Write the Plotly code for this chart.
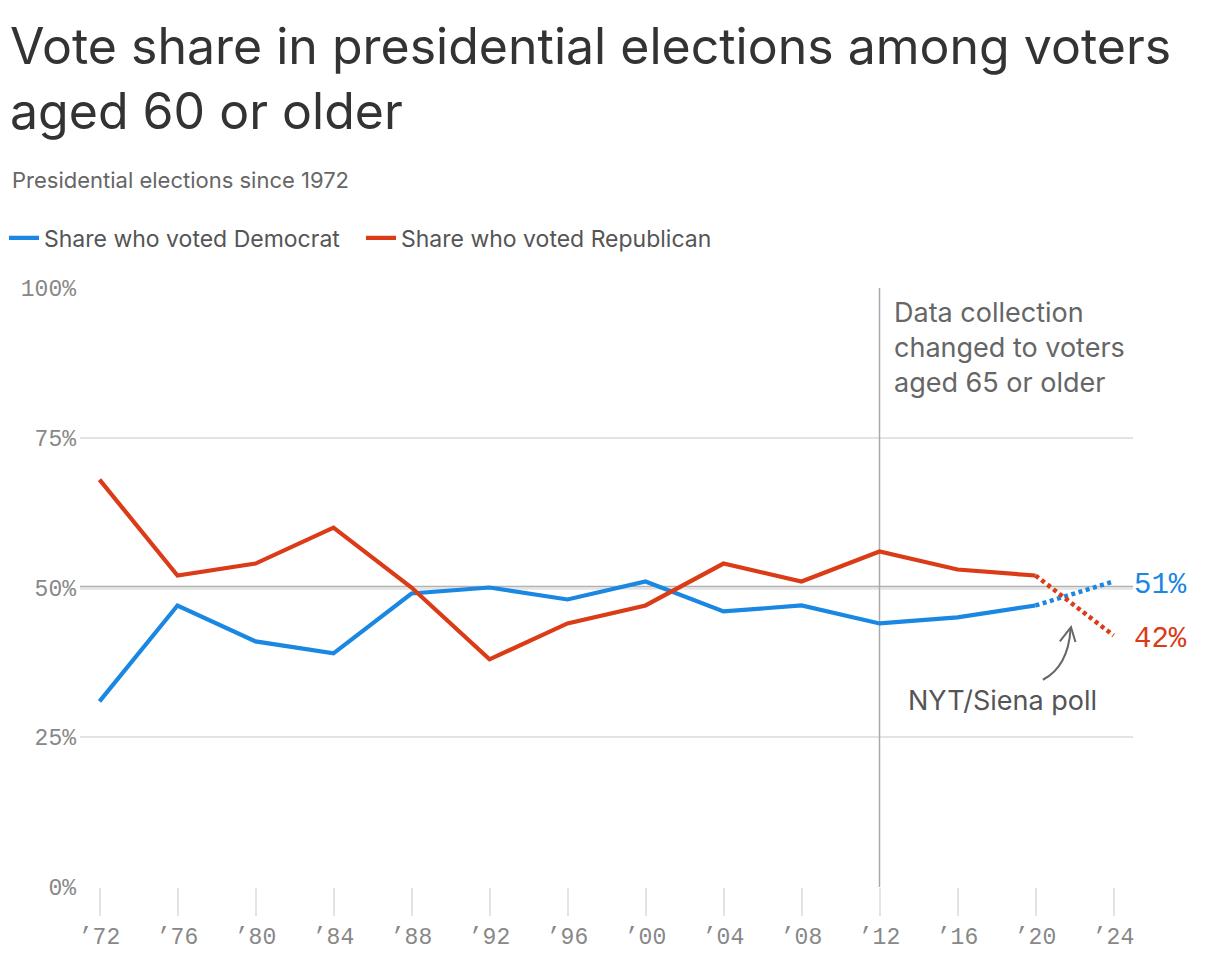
import plotly.graph_objects as go

# ---- data ----
years = [1972, 1976, 1980, 1984, 1988, 1992, 1996, 2000, 2004, 2008, 2012, 2016, 2020]
dem_share = [31, 47, 41, 39, 49, 50, 48, 51, 46, 47, 44, 45, 47]
rep_share = [68, 52, 54, 60, 50, 38, 44, 47, 54, 51, 56, 53, 52]
poll_years = [2020, 2024]
dem_poll = [47, 51]
rep_poll = [52, 42]
tick_years = [1972, 1976, 1980, 1984, 1988, 1992, 1996, 2000, 2004, 2008, 2012, 2016, 2020, 2024]
tick_labels = ["’72", "’76", "’80", "’84", "’88", "’92", "’96", "’00", "’04", "’08", "’12", "’16", "’20", "’24"]
y_ticks = [0, 25, 50, 75, 100]
y_labels = ["0%", "25%", "50%", "75%", "100%"]

BLUE = "#1a87e2"
RED = "#db3b16"
SANS = "Inter, Roboto, sans-serif"
MONO = "Liberation Mono, DejaVu Sans Mono, monospace"

fig = go.Figure()
fig.add_trace(go.Scatter(x=years, y=dem_share, mode="lines", name="Share who voted Democrat",
                         line=dict(color=BLUE, width=4.2), hoverinfo="skip"))
fig.add_trace(go.Scatter(x=years, y=rep_share, mode="lines", name="Share who voted Republican",
                         line=dict(color=RED, width=4.2), hoverinfo="skip"))
fig.add_trace(go.Scatter(x=poll_years, y=dem_poll, mode="lines", showlegend=False,
                         line=dict(color=BLUE, width=4.5, dash="4px,3.5px"), hoverinfo="skip"))
fig.add_trace(go.Scatter(x=poll_years, y=rep_poll, mode="lines", showlegend=False,
                         line=dict(color=RED, width=4.5, dash="4px,3.5px"), hoverinfo="skip"))

# 50% reference line
fig.add_shape(type="line", xref="paper", yref="y", x0=0, x1=1, y0=50, y1=50,
              line=dict(color="#b0b0b0", width=3.5), layer="between")
# vertical line at 2012
fig.add_shape(type="line", xref="x", yref="y", x0=2012, x1=2012, y0=0, y1=100,
              line=dict(color="#aaaaaa", width=1.5), layer="between")

# curved arrow for poll annotation
fig.add_shape(type="path", xref="x", yref="y",
              path="M 2020.38,34.6 Q 2021.67,36.8 2021.8,43.1",
              line=dict(color="#666666", width=2))
fig.add_shape(type="path", xref="x", yref="y",
              path="M 2021.25,41.0 L 2021.82,43.4 L 2022.05,40.9",
              line=dict(color="#666666", width=2))

annotations = [
    dict(text="Vote share in presidential elections among voters<br>aged 60 or older",
         xref="paper", yref="paper", x=(8 - 80) / 1053, y=(887 - 14) / 599,
         xanchor="left", yanchor="top", align="left", showarrow=False,
         font=dict(family=SANS, size=50, color="#333333")),
    dict(text="Presidential elections since 1972", xref="paper", yref="paper",
         x=(10 - 80) / 1053, y=(887 - 180) / 599, xanchor="left", yanchor="middle", showarrow=False,
         font=dict(family=SANS, size=22, color="#666666")),
    dict(text="Data collection<br>changed to voters<br>aged 65 or older", xref="x", yref="y",
         x=2012.65, y=99.0, xanchor="left", yanchor="top", align="left", showarrow=False,
         font=dict(family=SANS, size=27, color="#666666")),
    dict(text="NYT/Siena poll", xref="x", yref="y", x=2018.3, y=31.2,
         xanchor="center", yanchor="middle", showarrow=False,
         font=dict(family=SANS, size=27, color="#555555")),
    dict(text="51%", xref="paper", yref="y", x=1.0, y=50.4, xanchor="left", yanchor="middle",
         xshift=-1, showarrow=False, font=dict(family=MONO, size=29, color=BLUE)),
    dict(text="42%", xref="paper", yref="y", x=1.0, y=41.4, xanchor="left", yanchor="middle",
         xshift=-1, showarrow=False, font=dict(family=MONO, size=29, color=RED)),
]

fig.update_layout(
    width=1220, height=956,
    margin=dict(l=80, r=87, t=288, b=69, autoexpand=False),
    paper_bgcolor="white", plot_bgcolor="white",
    showlegend=True,
    legend=dict(orientation="h", xref="container", yref="container", x=4/1220, y=1 - 238/956,
                xanchor="left", yanchor="middle", font=dict(family=SANS, size=23, color="#555555"),
                itemwidth=30, tracegroupgap=0, bgcolor="rgba(0,0,0,0)",
                entrywidth=312, entrywidthmode="pixels"),
    annotations=annotations,
    xaxis=dict(range=[1971, 2025], tickvals=tick_years, ticktext=tick_labels,
               showgrid=False, zeroline=False, showline=False, automargin=False,
               ticks="outside", ticklen=28, tickwidth=1.5, tickcolor="#e3e3e3",
               tickfont=dict(family=MONO, size=23, color="#888888"), fixedrange=True),
    yaxis=dict(range=[0, 100], tickvals=y_ticks, ticktext=y_labels, automargin=False,
               showgrid=True, gridcolor="#e3e3e3", gridwidth=1.5, zeroline=False,
               showline=False, ticks="", ticklabelstandoff=3,
               tickfont=dict(family=MONO, size=23, color="#888888"), fixedrange=True),
)

fig.write_html("out.html", config={"displayModeBar": False},
               post_script="document.body.style.margin='0px';")
